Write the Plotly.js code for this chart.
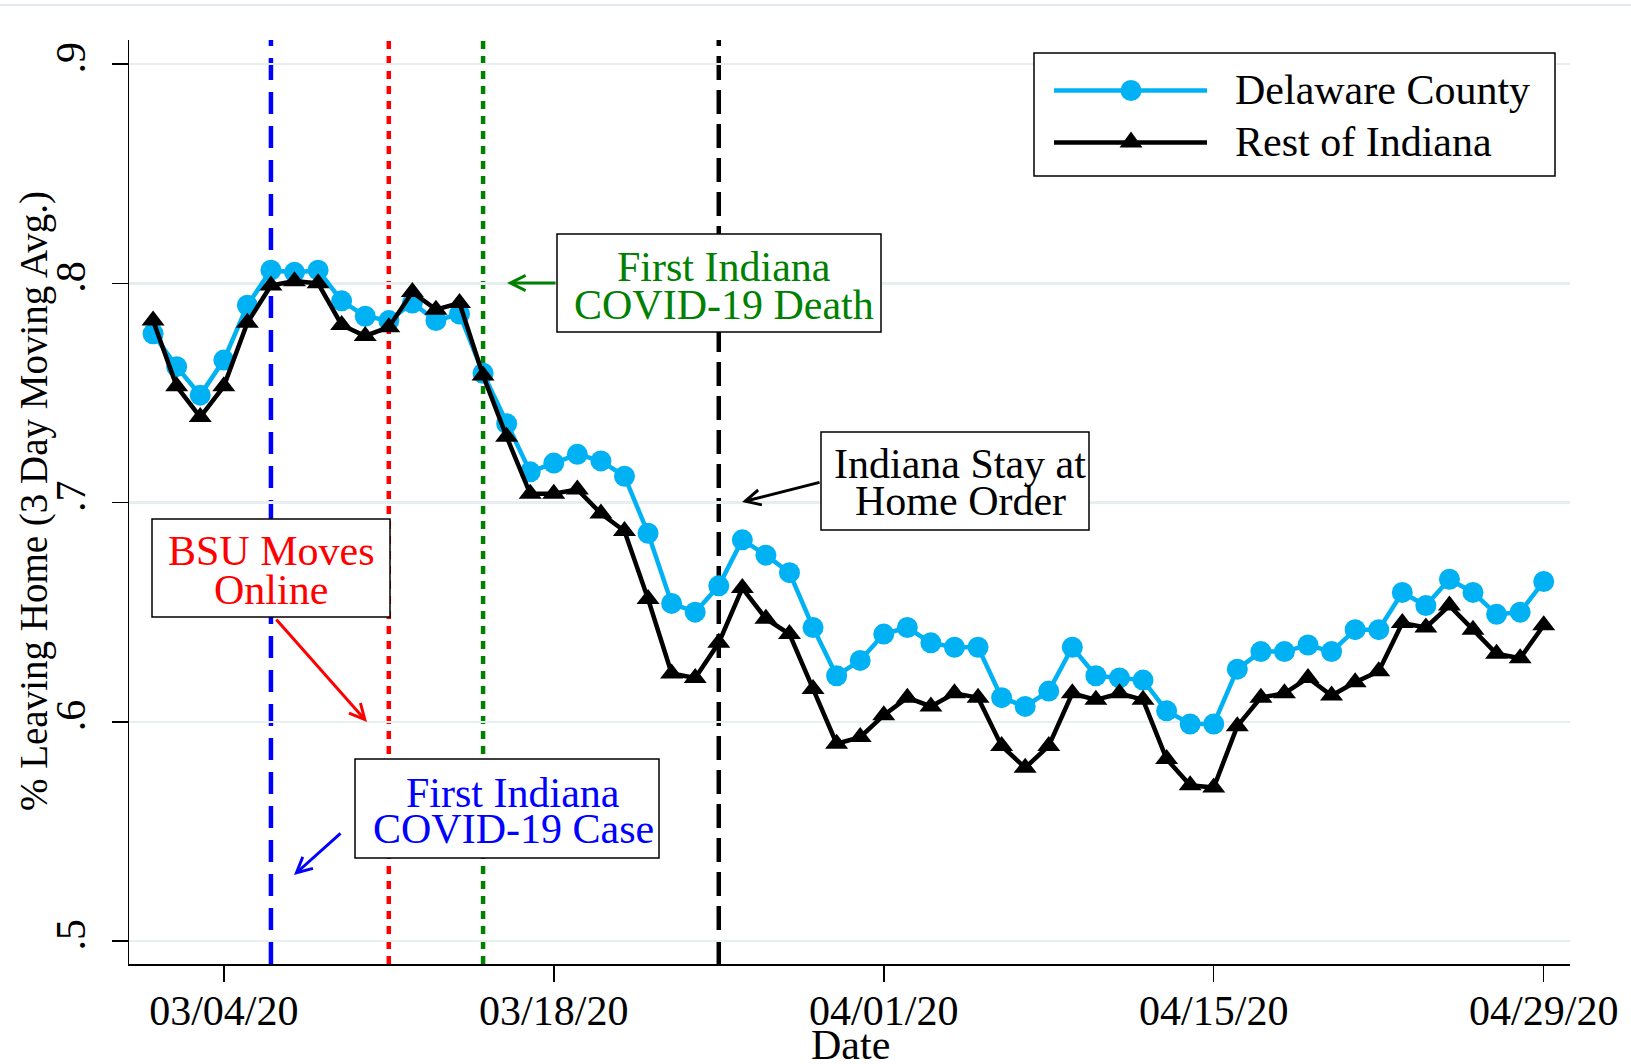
<!DOCTYPE html>
<html>
<head>
<meta charset="utf-8">
<script src="https://cdn.plot.ly/plotly-3.0.1.min.js"></script>
<style>html,body{margin:0;padding:0;background:#fff;}#chart{width:1631px;height:1064px;}</style>
</head>
<body>
<div id="chart"></div>
<script>
// ---- data ----
const dates = ['2020-03-01','2020-03-02','2020-03-03','2020-03-04','2020-03-05','2020-03-06','2020-03-07','2020-03-08','2020-03-09','2020-03-10',
'2020-03-11','2020-03-12','2020-03-13','2020-03-14','2020-03-15','2020-03-16','2020-03-17','2020-03-18','2020-03-19','2020-03-20',
'2020-03-21','2020-03-22','2020-03-23','2020-03-24','2020-03-25','2020-03-26','2020-03-27','2020-03-28','2020-03-29','2020-03-30',
'2020-03-31','2020-04-01','2020-04-02','2020-04-03','2020-04-04','2020-04-05','2020-04-06','2020-04-07','2020-04-08','2020-04-09',
'2020-04-10','2020-04-11','2020-04-12','2020-04-13','2020-04-14','2020-04-15','2020-04-16','2020-04-17','2020-04-18','2020-04-19',
'2020-04-20','2020-04-21','2020-04-22','2020-04-23','2020-04-24','2020-04-25','2020-04-26','2020-04-27','2020-04-28','2020-04-29'];

const delawareCounty = [0.777,0.762,0.749,0.765,0.790,0.806,0.805,0.806,0.792,0.785,
0.783,0.791,0.783,0.786,0.759,0.736,0.714,0.718,0.722,0.719,
0.712,0.686,0.654,0.650,0.662,0.683,0.676,0.668,0.643,0.621,
0.628,0.640,0.643,0.636,0.634,0.634,0.611,0.607,0.614,0.634,
0.621,0.620,0.619,0.605,0.599,0.599,0.624,0.632,0.632,0.635,
0.632,0.642,0.642,0.659,0.653,0.665,0.659,0.649,0.650,0.664];

const restOfIndiana = [0.783,0.753,0.739,0.753,0.782,0.799,0.801,0.800,0.781,0.776,
0.780,0.796,0.788,0.791,0.758,0.730,0.704,0.704,0.706,0.695,
0.687,0.656,0.622,0.620,0.636,0.661,0.647,0.640,0.615,0.590,
0.593,0.603,0.611,0.607,0.613,0.611,0.589,0.579,0.589,0.613,
0.610,0.613,0.610,0.583,0.571,0.570,0.598,0.611,0.613,0.620,
0.612,0.618,0.623,0.645,0.643,0.653,0.642,0.631,0.629,0.644];

const seriesNames = ['Delaware County','Rest of Indiana'];

const xTickVals = ['2020-03-04','2020-03-18','2020-04-01','2020-04-15','2020-04-29'];
const xTickText = ['03/04/20','03/18/20','04/01/20','04/15/20','04/29/20'];
const yTickVals = [0.5,0.6,0.7,0.8,0.9];
const yTickText = ['.5','.6','.7','.8','.9'];
const xTitle = 'Date';
const yTitle = '% Leaving Home (3 Day Moving Avg.)';

const eventDates = ['2020-03-06','2020-03-11','2020-03-15','2020-03-25'];
const eventLabels = [
  ['First Indiana','COVID-19 Case'],
  ['BSU Moves','Online'],
  ['First Indiana','COVID-19 Death'],
  ['Indiana Stay at','Home Order']
];

// ---- styling / layout helpers ----
const W = 1631, H = 1064;
const M = {l:129, r:61, t:40, b:100};
const PW = W - M.l - M.r, PH = H - M.t - M.b;
const px = p => (p - M.l) / PW;       // pixel -> paper x
const py = p => (H - M.b - p) / PH;   // pixel -> paper y
const FONT = 'Liberation Serif, Times New Roman, serif';
const BLUE = '#00b2f4';

const eventStyles = [
  {color:'#0000ff', dash:'22px,12px', width:4.5},
  {color:'#ff0000', dash:'8px,7px', width:4.5},
  {color:'#008000', dash:'8px,7px', width:4.5},
  {color:'#000000', dash:'24px,10px', width:4.5}
];
// boxes: [x0,x1,y0,y1] px, text center x, line centers y, arrow head and tail px
const boxes = [
  {box:[355,659,759,858], tx:513, ty:[793,829], head:[294,875], tail:[342,832]},
  {box:[152,390,519,617], tx:271, ty:[551,590], head:[367,722], tail:[275,618]},
  {box:[557,881,234,332], tx:724, ty:[267,305], head:[507,283], tail:[557,283]},
  {box:[821,1089,432,530], tx:960, ty:[464,501], head:[742,502], tail:[821,482]}
];

const traces = [
  {x:dates, y:delawareCounty, name:seriesNames[0], type:'scatter', mode:'lines+markers',
   line:{color:BLUE, width:4.5}, marker:{symbol:'circle', size:21, color:BLUE}, showlegend:false},
  {x:dates, y:restOfIndiana, name:seriesNames[1], type:'scatter', mode:'lines+markers',
   line:{color:'#000000', width:4.5}, marker:{symbol:'triangle-up', size:20, color:'#000000'}, showlegend:false}
];

const shapes = [];
const annotations = [];

// top border line of image
shapes.push({type:'line', xref:'paper', yref:'paper', x0:px(0), x1:px(W), y0:py(5), y1:py(5),
  line:{color:'#e4eaed', width:2}, layer:'above'});

eventDates.forEach((d,i) => {
  const s = eventStyles[i];
  shapes.push({type:'line', xref:'x', yref:'paper', x0:d, x1:d, y0:0, y1:1,
    line:{color:s.color, width:s.width, dash:s.dash}, layer:'between'});
});

boxes.forEach((b,i) => {
  const c = eventStyles[i].color;
  shapes.push({type:'rect', xref:'paper', yref:'paper', x0:px(b.box[0]), x1:px(b.box[1]),
    y0:py(b.box[3]), y1:py(b.box[2]), fillcolor:'#ffffff', line:{color:'#000000', width:1.5}, layer:'above'});
  eventLabels[i].forEach((t,j) => {
    annotations.push({xref:'paper', yref:'paper', x:px(b.tx), y:py(b.ty[j]), text:t, showarrow:false,
      xanchor:'center', yanchor:'middle', font:{family:FONT, size:42, color:c}});
  });
  annotations.push({xref:'paper', yref:'paper', x:px(b.head[0]), y:py(b.head[1]), text:'',
    showarrow:true, arrowhead:5, arrowsize:1, arrowwidth:3, arrowcolor:c,
    ax:b.tail[0]-b.head[0], ay:b.tail[1]-b.head[1], standoff:0, startstandoff:0});
});

// legend (manual)
shapes.push({type:'rect', xref:'paper', yref:'paper', x0:px(1034), x1:px(1555), y0:py(176), y1:py(53),
  fillcolor:'#ffffff', line:{color:'#000000', width:1.5}, layer:'above'});
const legRows = [90.5, 142.5];
shapes.push({type:'line', xref:'paper', yref:'paper', x0:px(1054), x1:px(1207), y0:py(legRows[0]), y1:py(legRows[0]),
  line:{color:BLUE, width:4.5}, layer:'above'});
shapes.push({type:'circle', xref:'paper', yref:'paper', x0:px(1120.5), x1:px(1141.5), y0:py(legRows[0]+10.5), y1:py(legRows[0]-10.5),
  fillcolor:BLUE, line:{color:BLUE, width:0}, layer:'above'});
shapes.push({type:'line', xref:'paper', yref:'paper', x0:px(1054), x1:px(1207), y0:py(legRows[1]), y1:py(legRows[1]),
  line:{color:'#000000', width:4.5}, layer:'above'});
shapes.push({type:'path', xref:'paper', yref:'paper',
  path:`M${px(1119.5)},${py(legRows[1]+5)} L${px(1142.5)},${py(legRows[1]+5)} L${px(1131)},${py(legRows[1]-11)} Z`,
  fillcolor:'#000000', line:{color:'#000000', width:0}, layer:'above'});
seriesNames.forEach((n,i) => {
  annotations.push({xref:'paper', yref:'paper', x:px(1233), y:py(legRows[i]), text:n, showarrow:false,
    xanchor:'left', yanchor:'middle', font:{family:FONT, size:42, color:'#000000'}});
});

// axis titles as annotations for exact placement
annotations.push({xref:'paper', yref:'paper', x:px(850), y:py(1045), text:xTitle, showarrow:false,
  xanchor:'center', yanchor:'middle', height:34, valign:'middle', font:{family:FONT, size:42, color:'#000'}});
annotations.push({xref:'paper', yref:'paper', x:px(34), y:py(501), text:yTitle, showarrow:false, textangle:-90,
  xanchor:'center', yanchor:'middle', font:{family:FONT, size:39, color:'#000'}});

const layout = {
  width:W, height:H,
  margin:M,
  paper_bgcolor:'#ffffff', plot_bgcolor:'#ffffff',
  font:{family:FONT, size:42, color:'#000000'},
  showlegend:false,
  xaxis:{type:'date', range:['2020-02-28 23:28','2020-04-30 02:46'],
    tickvals:xTickVals, ticktext:xTickText, ticks:'outside', ticklen:16, tickwidth:1.5, tickcolor:'#000',
    showline:true, linecolor:'#000', linewidth:1.5, showgrid:false, zeroline:false,
    tickfont:{family:FONT, size:42, color:'#000'}, ticklabelstandoff:-7,
    automargin:false},
  yaxis:{range:[0.4895,0.911], tickvals:yTickVals, ticktext:yTickText, tickangle:-90,
    ticks:'outside', ticklen:16, tickwidth:1.5, tickcolor:'#000',
    showline:true, linecolor:'#000', linewidth:1.5, showgrid:true, gridcolor:'#e6eef0', gridwidth:2.5, zeroline:false,
    tickfont:{family:FONT, size:42, color:'#000'}, ticklabelstandoff:10,
    automargin:false},
  shapes:shapes,
  annotations:annotations
};

Plotly.newPlot('chart', traces, layout, {staticPlot:true, displayModeBar:false});
</script>
</body>
</html>
